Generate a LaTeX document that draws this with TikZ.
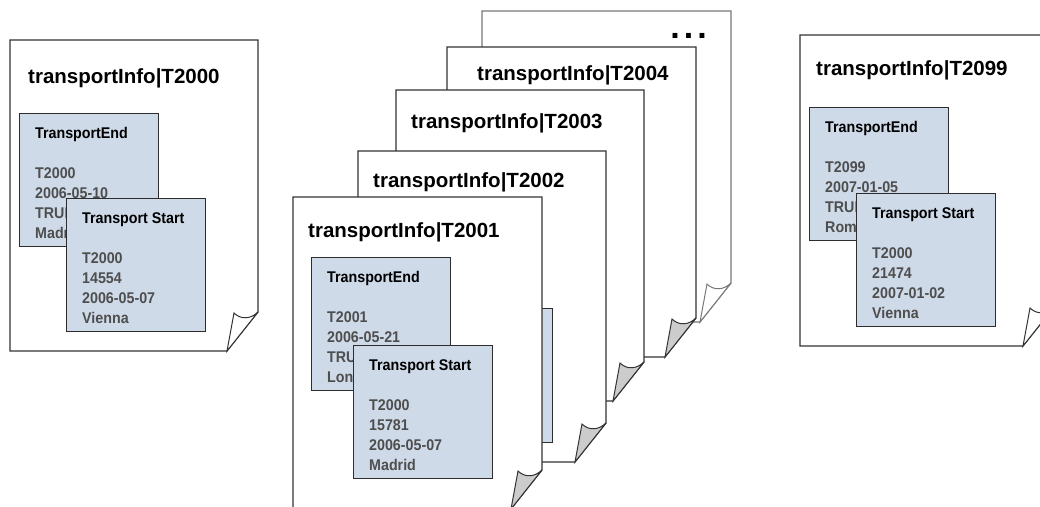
\documentclass[tikz,border=0pt]{standalone}
\usepackage{fontspec}
\setmainfont{Liberation Sans}
\newfontfamily\recordfont[FakeStretch=0.92]{Liberation Sans}
\usetikzlibrary{positioning}
\definecolor{pageedge}{RGB}{51,51,51}
\definecolor{pagefaint}{RGB}{120,120,120}
\definecolor{recfill}{RGB}{207,218,233}
\definecolor{recedge}{RGB}{45,45,45}
\definecolor{recmuted}{RGB}{78,78,78}
\definecolor{flapgray}{RGB}{204,204,204}
\tikzset{
  pageline/.style={draw=pageedge, line width=1.2pt, fill=white},
  flapline/.style={draw=pageedge, line width=1pt},
  record/.style={draw=recedge, line width=1.2pt, fill=recfill,
    minimum width=139pt, minimum height=133pt, anchor=north west, inner sep=0pt},
  recordtext/.style={font=\recordfont\bfseries\fontsize{15.5}{20}\selectfont, text=recmuted,
    align=left, inner sep=0pt},
  pagetitle/.style={font=\bfseries\fontsize{20.5}{24}\selectfont, anchor=base west, inner sep=0pt}
}
% page with a dog-ear: [edge colour]{left}{top}{right}{bottom}{flap fill}
\newcommand{\docpage}[6][pageedge]{%
  \draw[pageline, draw=#1] (#2,#3) -- (#4,#3) -- (#4,#5-39) -- (#4-31,#5) -- (#2,#5) -- cycle;
  \draw[flapline, draw=#1, fill=#6] (#4-31,#5) -- (#4-24,#5-38)
    .. controls (#4-17,#5-31) and (#4-7,#5-32) .. (#4,#5-39) -- cycle;
}

\begin{document}
\begin{tikzpicture}[x=1pt, y=-1pt]
    \useasboundingbox (0,0) rectangle (1040,506);
    \clip (0,0) rectangle (1040,506);

    % first document
    \docpage{10}{40}{258}{351}{white}
    \node[pagetitle] (titleA) at (28,83) {transportInfo|T2000};
    \node[record] (endA) at (19,113) {};
    \node[recordtext, below right=14pt and 16pt of endA.north west]
      {\textcolor{black}{TransportEnd}\\[20pt]T2000\\2006-05-10\\TRUE\\Madrid};
    \node[record] (startA) at (66,198) {};
    \node[recordtext, below right=14pt and 16pt of startA.north west]
      {\textcolor{black}{Transport Start}\\[20pt]T2000\\14554\\2006-05-07\\Vienna};

    % stacked documents, back to front
    \docpage[pagefaint]{482}{11}{731}{322}{white}
    \node[font=\bfseries\fontsize{34}{34}\selectfont, anchor=base east, inner sep=0pt]
      (more) at (707,38) {.\hspace{4pt}.\hspace{4pt}.};
    \docpage{447}{47}{696}{357}{flapgray}
    \node[pagetitle] (titleE) at (477,80) {transportInfo|T2004};
    \docpage{396}{90}{644}{401}{flapgray}
    \node[pagetitle] (titleD) at (411,128) {transportInfo|T2003};
    \docpage{358}{151}{606}{462}{flapgray}
    \node[pagetitle] (titleC) at (373,187) {transportInfo|T2002};
    \node[record, minimum height=134pt] (startC) at (413,308) {};
    \docpage{293}{197}{542}{509}{flapgray}
    \node[pagetitle] (titleB) at (308,237) {transportInfo|T2001};
    \node[record] (endB) at (311,257) {};
    \node[recordtext, below right=14pt and 16pt of endB.north west]
      {\textcolor{black}{TransportEnd}\\[20pt]T2001\\2006-05-21\\TRUE\\London};
    \node[record] (startB) at (353,345) {};
    \node[recordtext, below right=14pt and 16pt of startB.north west]
      {\textcolor{black}{Transport Start}\\[20pt]T2000\\15781\\2006-05-07\\Madrid};

    % last document
    \docpage{800}{35}{1054}{346}{white}
    \node[pagetitle] (titleZ) at (816,75) {transportInfo|T2099};
    \node[record] (endZ) at (809,107) {};
    \node[recordtext, below right=14pt and 16pt of endZ.north west]
      {\textcolor{black}{TransportEnd}\\[20pt]T2099\\2007-01-05\\TRUE\\Rome};
    \node[record] (startZ) at (856,193) {};
    \node[recordtext, below right=14pt and 16pt of startZ.north west]
      {\textcolor{black}{Transport Start}\\[20pt]T2000\\21474\\2007-01-02\\Vienna};
  \end{tikzpicture}
\end{document}
